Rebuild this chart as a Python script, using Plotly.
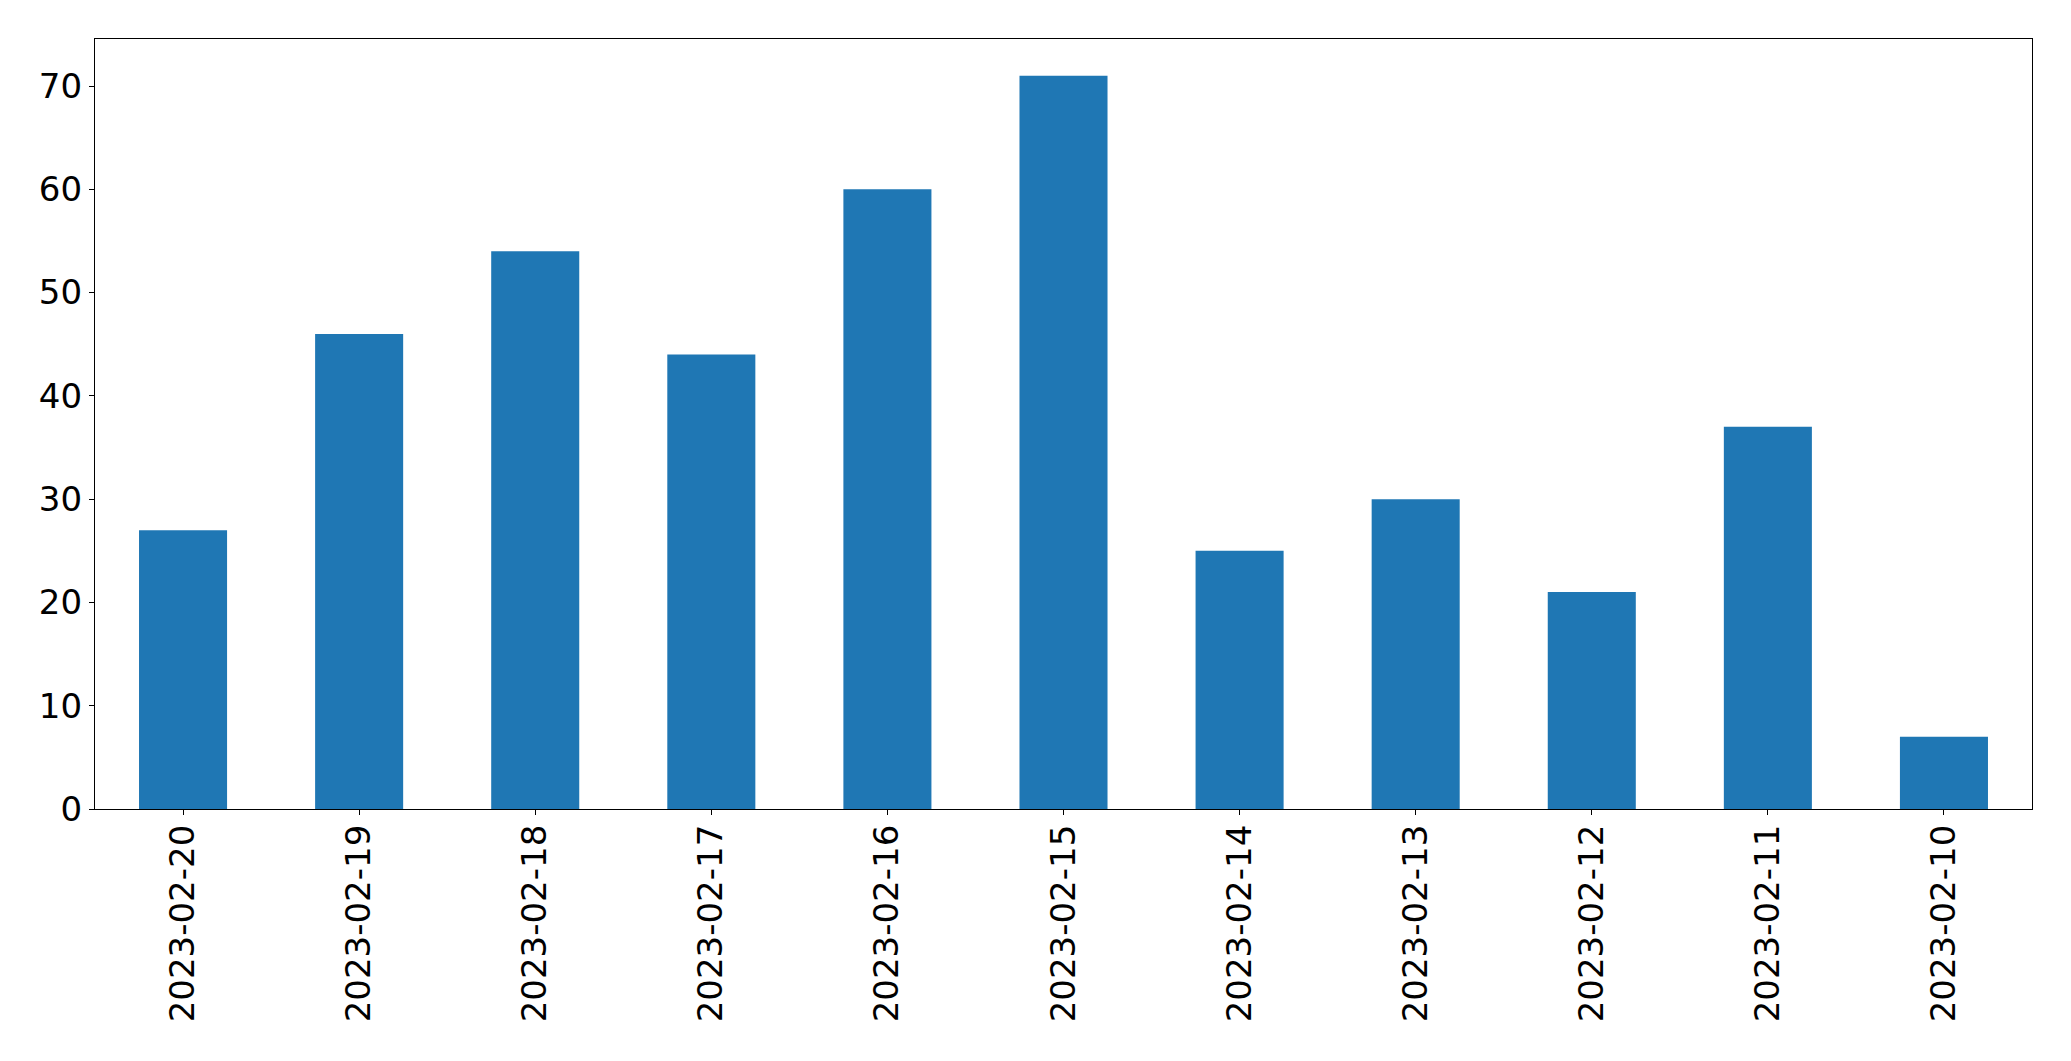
import plotly.graph_objects as go

dates = ["2023-02-20", "2023-02-19", "2023-02-18", "2023-02-17", "2023-02-16",
         "2023-02-15", "2023-02-14", "2023-02-13", "2023-02-12", "2023-02-11", "2023-02-10"]
counts = [27, 46, 54, 44, 60, 71, 25, 30, 21, 37, 7]
y_ticks = [0, 10, 20, 30, 40, 50, 60, 70]

fig = go.Figure(go.Bar(x=dates, y=counts, marker=dict(color="#1f77b4", line=dict(width=0)), width=0.5))

font = dict(family="DejaVu Sans", size=34, color="black")
fig.update_layout(
    width=2071, height=1061,
    margin=dict(l=95, r=39, t=39, b=252, autoexpand=False),
    paper_bgcolor="white", plot_bgcolor="white",
    showlegend=False,
    font=font,
)
fig.update_xaxes(
    type="category", range=[-0.5, 10.5], automargin=False,
    tickangle=-90, tickfont=font,
    showline=True, linecolor="black", linewidth=1.3, mirror=True,
    ticks="outside", ticklen=5, tickwidth=1.3, tickcolor="black",
    showgrid=False, zeroline=False, ticklabelstandoff=-4,
)
fig.update_yaxes(
    range=[0, 74.55], tickvals=y_ticks, tickfont=font, automargin=False,
    showline=True, linecolor="black", linewidth=1.3, mirror=True,
    ticks="outside", ticklen=5, tickwidth=1.3, tickcolor="black",
    showgrid=False, zeroline=False, ticklabelstandoff=0,
)
fig.write_html("out.html", config={"displayModeBar": False},
               post_script="document.body.style.margin='0';document.body.style.overflow='hidden';")
